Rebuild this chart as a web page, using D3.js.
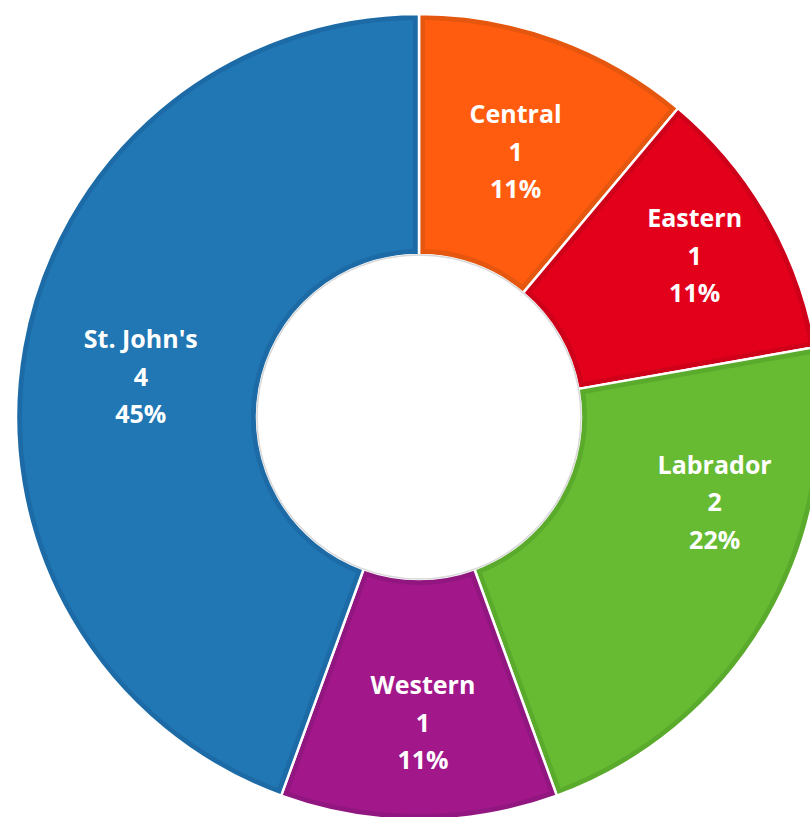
<!DOCTYPE html>
<html>
<head>
<meta charset="utf-8">
<script src="https://cdn.jsdelivr.net/npm/d3@7"></script>
<style>
  html, body { margin: 0; padding: 0; background: #fff; }
  svg { display: block; }
</style>
</head>
<body>
<svg id="chart" width="810" height="817"></svg>
<script>
// datos del gráfico
const regiones = ["Central", "Eastern", "Labrador", "Western", "St. John's"];
const valores = [1, 1, 2, 1, 4];
const porcentajes = ["11%", "11%", "22%", "11%", "45%"];

const colores = ["#FF5C10", "#E2001A", "#66BB33", "#A2188B", "#2077B4"];
const bordes = ["#E5560F", "#CF0019", "#5AAA2C", "#911680", "#1C6BA6"];

function dibujar() {
    const svg = d3.select("#chart");
    svg.selectAll("*").remove();

    const cx = 419, cy = 417;
    const radioExt = 403, radioInt = 162;

    const datos = regiones.map((r, i) => ({ region: r, valor: valores[i], pct: porcentajes[i], i }));

    const pie = d3.pie().sort(null).value(d => d.valor);
    const arcos = pie(datos);

    const arco = d3.arc().innerRadius(radioInt).outerRadius(radioExt);
    // relleno interior, deja un borde más oscuro alrededor
    const arcoInterior = d3.arc()
        .innerRadius(radioInt + 6)
        .outerRadius(radioExt - 6)
        .padRadius(100)
        .padAngle(0.12);
    const arcoEtiqueta = d3.arc().innerRadius(radioInt).outerRadius(radioExt);

    const g = svg.append("g").attr("transform", `translate(${cx},${cy})`);

    g.selectAll("path.borde")
        .data(arcos)
        .join("path")
        .attr("class", "borde")
        .attr("d", arco)
        .attr("fill", d => bordes[d.data.i])
        .attr("stroke", "#ffffff")
        .attr("stroke-width", 2.5)
        .attr("stroke-linejoin", "round");

    g.selectAll("path.relleno")
        .data(arcos)
        .join("path")
        .attr("class", "relleno")
        .attr("d", arcoInterior)
        .attr("fill", d => colores[d.data.i]);

    // borde gris suave en el agujero
    g.append("circle")
        .attr("r", radioInt)
        .attr("fill", "#ffffff")
        .attr("stroke", "#d8d8d8")
        .attr("stroke-width", 1.5);

    // ajuste de etiquetas (como en el original)
    const ajuste = {
        "Central": [0, 0],
        "Labrador": [51, -56],
        "Eastern": [31, -20],
        "Western": [4, 23],
        "St. John's": [0, 9]
    };

    const etiquetas = g.selectAll("text.etiqueta")
        .data(arcos)
        .join("text")
        .attr("class", "etiqueta")
        .attr("transform", d => {
            const [x, y] = arcoEtiqueta.centroid(d);
            const a = ajuste[d.data.region] || [0, 0];
            return `translate(${x + a[0]},${y + a[1]})`;
        })
        .attr("text-anchor", "middle")
        .attr("fill", "#ffffff")
        .style("font-family", "'Open Sans', sans-serif")
        .style("font-weight", 700)
        .style("font-size", "25px");

    etiquetas.each(function (d) {
        const t = d3.select(this);
        const lineas = [d.data.region, d.data.valor, d.data.pct];
        lineas.forEach((l, k) => {
            t.append("tspan")
                .attr("x", 0)
                .attr("y", (k - 1) * 37.5 + 9)
                .text(l);
        });
    });
}

document.addEventListener('DOMContentLoaded', dibujar);
</script>
</body>
</html>
